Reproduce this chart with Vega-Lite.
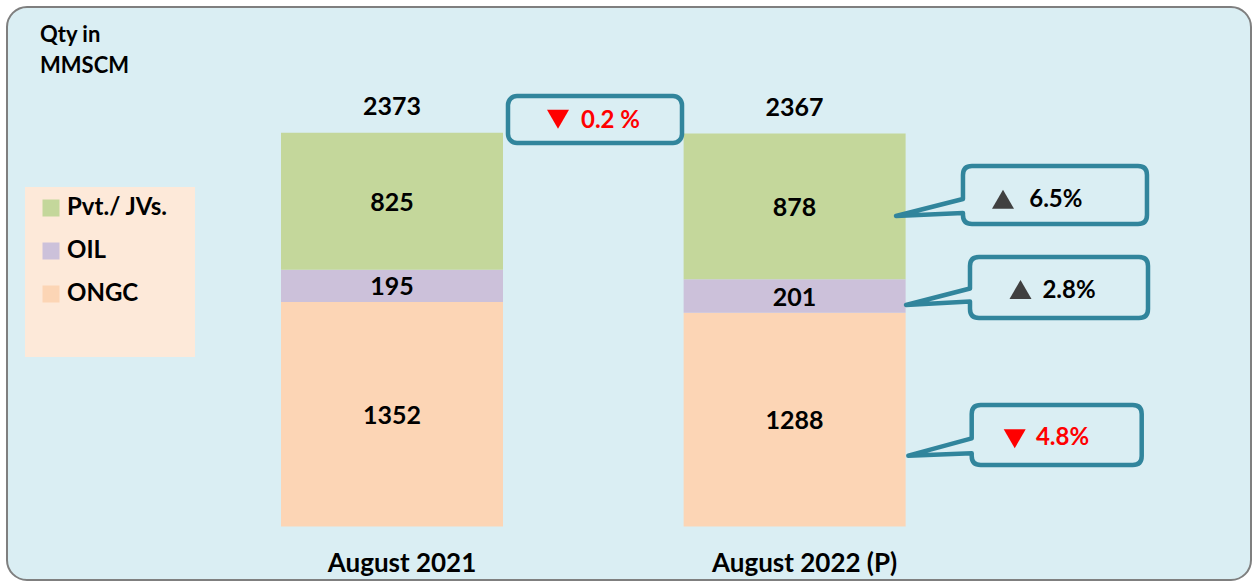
{
  "$schema": "https://vega.github.io/schema/vega-lite/v6.json",
  "width": 1252,
  "height": 581,
  "autosize": {"type": "fit", "contains": "padding"},
  "padding": {"left": 7, "top": 7, "right": 1, "bottom": 1},
  "background": "#FFFFFF",
  "datasets": {
    "main": [
      {"year": 2021, "period": "August 2021", "source": "ONGC", "value": 1352},
      {"year": 2021, "period": "August 2021", "source": "OIL", "value": 195},
      {"year": 2021, "period": "August 2021", "source": "Pvt./ JVs.", "value": 825},
      {"year": 2022, "period": "August 2022 (P)", "source": "ONGC", "value": 1288},
      {"year": 2022, "period": "August 2022 (P)", "source": "OIL", "value": 201},
      {"year": 2022, "period": "August 2022 (P)", "source": "Pvt./ JVs.", "value": 878}
    ],
    "totals": [
      {"year": 2021, "period": "August 2021", "total": 2373},
      {"year": 2022, "period": "August 2022 (P)", "total": 2367}
    ],
    "changes": [
      {"item": "Total", "pct": "0.2 %", "dir": "down"},
      {"item": "Pvt./ JVs.", "pct": "6.5%", "dir": "up"},
      {"item": "OIL", "pct": "2.8%", "dir": "up"},
      {"item": "ONGC", "pct": "4.8%", "dir": "down"}
    ]
  },
  "config": {
    "view": {"fill": "#DAEEF3", "stroke": "#7F7F7F", "strokeWidth": 2, "cornerRadius": 20},
    "font": "Lato"
  },
  "layer": [
    {
      "data": {"values": [{}]},
      "mark": {"type": "rect", "color": "#FDE9D9"},
      "encoding": {
        "x": {"datum": 2020.0884, "type": "quantitative", "axis": null},
        "x2": {"datum": 2020.5107},
        "y": {"datum": 2045.2, "type": "quantitative", "axis": null},
        "y2": {"datum": 1021.1}
      }
    },
    {
      "data": {"name": "main"},
      "transform": [{"stack": "value", "groupby": ["year"], "as": ["v0", "v1"]}],
      "mark": {"type": "bar", "width": 222},
      "encoding": {
        "x": {
          "field": "year", "type": "quantitative",
          "scale": {"domain": [2020.0437, 2023.1336], "nice": false, "zero": false, "padding": 0},
          "axis": null
        },
        "y": {
          "field": "v0", "type": "quantitative",
          "scale": {"domain": [-322.3, 3129.5], "nice": false, "zero": false, "padding": 0},
          "axis": null
        },
        "y2": {"field": "v1"},
        "color": {
          "field": "source", "type": "nominal",
          "scale": {"domain": ["Pvt./ JVs.", "OIL", "ONGC"], "range": ["#C4D79B", "#CCC1DA", "#FCD5B5"]},
          "legend": {
            "orient": "none", "legendX": 32, "legendY": 189, "title": null,
            "symbolType": "square", "symbolSize": 289, "symbolStrokeWidth": 0, "symbolOpacity": 1,
            "labelFont": "Lato", "labelFontSize": 24, "labelFontWeight": "bold", "labelColor": "#000000",
            "rowPadding": 19, "labelOffset": 4, "padding": 0
          }
        }
      }
    },
    {
      "data": {"name": "main"},
      "transform": [
        {"stack": "value", "groupby": ["year"], "as": ["v0", "v1"]},
        {"fold": ["v0", "v1"], "as": ["edge", "pos"]}
      ],
      "mark": {"type": "text", "font": "Lato", "fontSize": 25, "fontWeight": "bold", "color": "#000000", "dy": 1.5},
      "encoding": {
        "x": {"field": "year", "type": "quantitative", "axis": null},
        "y": {"aggregate": "mean", "field": "pos", "type": "quantitative", "axis": null},
        "text": {"field": "value", "type": "nominal"},
        "detail": {"field": "source", "type": "nominal"}
      }
    },
    {
      "data": {"name": "totals"},
      "mark": {"type": "text", "font": "Lato", "fontSize": 25, "fontWeight": "bold", "color": "#000000", "dy": -26},
      "encoding": {
        "x": {"field": "year", "type": "quantitative", "axis": null},
        "y": {"field": "total", "type": "quantitative", "axis": null},
        "text": {"field": "total", "type": "nominal"}
      }
    },
    {
      "data": {"name": "totals"},
      "mark": {"type": "text", "font": "Lato", "fontSize": 26, "fontWeight": "bold", "color": "#000000", "dx": 10, "dy": 1.5},
      "encoding": {
        "x": {"field": "year", "type": "quantitative", "axis": null},
        "y": {"datum": -213.9, "type": "quantitative", "axis": null},
        "text": {"field": "period", "type": "nominal"}
      }
    },
    {
      "data": {"values": [{}]},
      "mark": {"type": "text", "text": ["Qty in", "MMSCM"], "align": "left", "baseline": "alphabetic", "font": "Lato", "fontSize": 22, "fontWeight": "bold", "color": "#000000", "lineHeight": 31},
      "encoding": {
        "x": {"datum": 2020.1257, "type": "quantitative", "axis": null},
        "y": {"datum": 2918, "type": "quantitative", "axis": null}
      }
    },
    {
      "data": {"values": [{}]},
      "mark": {"type": "rect", "cornerRadius": 9, "fill": "#DAEEF3", "stroke": "#31859C", "strokeWidth": 4.5},
      "encoding": {
        "x": {"datum": 2021.2881, "type": "quantitative", "axis": null},
        "x2": {"datum": 2021.7203},
        "y": {"datum": 2593.4, "type": "quantitative", "axis": null},
        "y2": {"datum": 2310.2}
      }
    },
    {
      "data": {"name": "changes"},
      "transform": [{"filter": "datum.item == 'Total'"}],
      "mark": {"type": "point", "shape": "triangle-down", "size": 484, "filled": true, "color": "#FF0000", "opacity": 1},
      "encoding": {
        "x": {"datum": 2021.4123, "type": "quantitative", "axis": null},
        "y": {"datum": 2453.0, "type": "quantitative", "axis": null}
      }
    },
    {
      "data": {"name": "changes"},
      "transform": [{"filter": "datum.item == 'Total'"}],
      "mark": {"type": "text", "font": "Lato", "fontSize": 24, "fontWeight": "bold", "color": "#FF0000", "dy": 1.5},
      "encoding": {
        "x": {"datum": 2021.5427, "type": "quantitative", "axis": null},
        "y": {"datum": 2451.8, "type": "quantitative", "axis": null},
        "text": {"field": "pct", "type": "nominal"}
      }
    },
    {
      "data": {"name": "changes"},
      "transform": [{"filter": "datum.item == 'Pvt./ JVs.'"}],
      "mark": {"type": "point", "shape": "M -0.83 -0.29 L 0.83 -0.29 Q 0.92 -0.29 0.92 -0.2 L 0.92 0.2 Q 0.92 0.29 0.83 0.29 L -0.83 0.29 Q -0.92 0.29 -0.92 0.2 L -0.92 0.18 L -1.59 0.21 L -0.92 0.04 L -0.92 -0.2 Q -0.92 -0.29 -0.83 -0.29 Z", "size": 40000, "filled": true, "fill": "#DAEEF3", "stroke": "#31859C", "strokeWidth": 4.5, "strokeJoin": "round", "opacity": 1},
      "encoding": {
        "x": {"datum": 2022.6467, "type": "quantitative", "axis": null},
        "y": {"datum": 1997.0, "type": "quantitative", "axis": null}
      }
    },
    {
      "data": {"name": "changes"},
      "transform": [{"filter": "datum.item == 'Pvt./ JVs.'"}],
      "mark": {"type": "point", "shape": "triangle-up", "size": 484, "filled": true, "color": "#404040", "opacity": 1},
      "encoding": {
        "x": {"datum": 2022.5176, "type": "quantitative", "axis": null},
        "y": {"datum": 1971.1, "type": "quantitative", "axis": null}
      }
    },
    {
      "data": {"name": "changes"},
      "transform": [{"filter": "datum.item == 'Pvt./ JVs.'"}],
      "mark": {"type": "text", "font": "Lato", "fontSize": 24, "fontWeight": "bold", "color": "#000000", "dy": 1.5},
      "encoding": {
        "x": {"datum": 2022.6488, "type": "quantitative", "axis": null},
        "y": {"datum": 1974.7, "type": "quantitative", "axis": null},
        "text": {"field": "pct", "type": "nominal"}
      }
    },
    {
      "data": {"name": "changes"},
      "transform": [{"filter": "datum.item == 'OIL'"}],
      "mark": {"type": "point", "shape": "M -0.8 -0.305 L 0.8 -0.305 Q 0.89 -0.305 0.89 -0.215 L 0.89 0.215 Q 0.89 0.305 0.8 0.305 L -0.8 0.305 Q -0.89 0.305 -0.89 0.215 L -0.89 0.14 L -1.53 0.175 L -0.89 0.01 L -0.89 -0.215 Q -0.89 -0.305 -0.8 -0.305 Z", "size": 40000, "filled": true, "fill": "#DAEEF3", "stroke": "#31859C", "strokeWidth": 4.5, "strokeJoin": "round", "opacity": 1},
      "encoding": {
        "x": {"datum": 2022.6567, "type": "quantitative", "axis": null},
        "y": {"datum": 1439.8, "type": "quantitative", "axis": null}
      }
    },
    {
      "data": {"name": "changes"},
      "transform": [{"filter": "datum.item == 'OIL'"}],
      "mark": {"type": "point", "shape": "triangle-up", "size": 484, "filled": true, "color": "#404040", "opacity": 1},
      "encoding": {
        "x": {"datum": 2022.5611, "type": "quantitative", "axis": null},
        "y": {"datum": 1427.7, "type": "quantitative", "axis": null}
      }
    },
    {
      "data": {"name": "changes"},
      "transform": [{"filter": "datum.item == 'OIL'"}],
      "mark": {"type": "text", "font": "Lato", "fontSize": 24, "fontWeight": "bold", "color": "#000000", "dy": 1.5},
      "encoding": {
        "x": {"datum": 2022.6816, "type": "quantitative", "axis": null},
        "y": {"datum": 1424.7, "type": "quantitative", "axis": null},
        "text": {"field": "pct", "type": "nominal"}
      }
    },
    {
      "data": {"name": "changes"},
      "transform": [{"filter": "datum.item == 'ONGC'"}],
      "mark": {"type": "point", "shape": "M -0.76 -0.3 L 0.76 -0.3 Q 0.85 -0.3 0.85 -0.21 L 0.85 0.21 Q 0.85 0.3 0.76 0.3 L -0.76 0.3 Q -0.85 0.3 -0.85 0.21 L -0.85 0.183 L -1.484 0.207 L -0.85 0.033 L -0.85 -0.21 Q -0.85 -0.3 -0.76 -0.3 Z", "size": 40000, "filled": true, "fill": "#DAEEF3", "stroke": "#31859C", "strokeWidth": 4.5, "strokeJoin": "round", "opacity": 1},
      "encoding": {
        "x": {"datum": 2022.651, "type": "quantitative", "axis": null},
        "y": {"datum": 551.2, "type": "quantitative", "axis": null}
      }
    },
    {
      "data": {"name": "changes"},
      "transform": [{"filter": "datum.item == 'ONGC'"}],
      "mark": {"type": "point", "shape": "triangle-down", "size": 484, "filled": true, "color": "#FF0000", "opacity": 1},
      "encoding": {
        "x": {"datum": 2022.5467, "type": "quantitative", "axis": null},
        "y": {"datum": 528.3, "type": "quantitative", "axis": null}
      }
    },
    {
      "data": {"name": "changes"},
      "transform": [{"filter": "datum.item == 'ONGC'"}],
      "mark": {"type": "text", "font": "Lato", "fontSize": 24, "fontWeight": "bold", "color": "#FF0000", "dy": 1.5},
      "encoding": {
        "x": {"datum": 2022.6654, "type": "quantitative", "axis": null},
        "y": {"datum": 544.0, "type": "quantitative", "axis": null},
        "text": {"field": "pct", "type": "nominal"}
      }
    }
  ]
}
